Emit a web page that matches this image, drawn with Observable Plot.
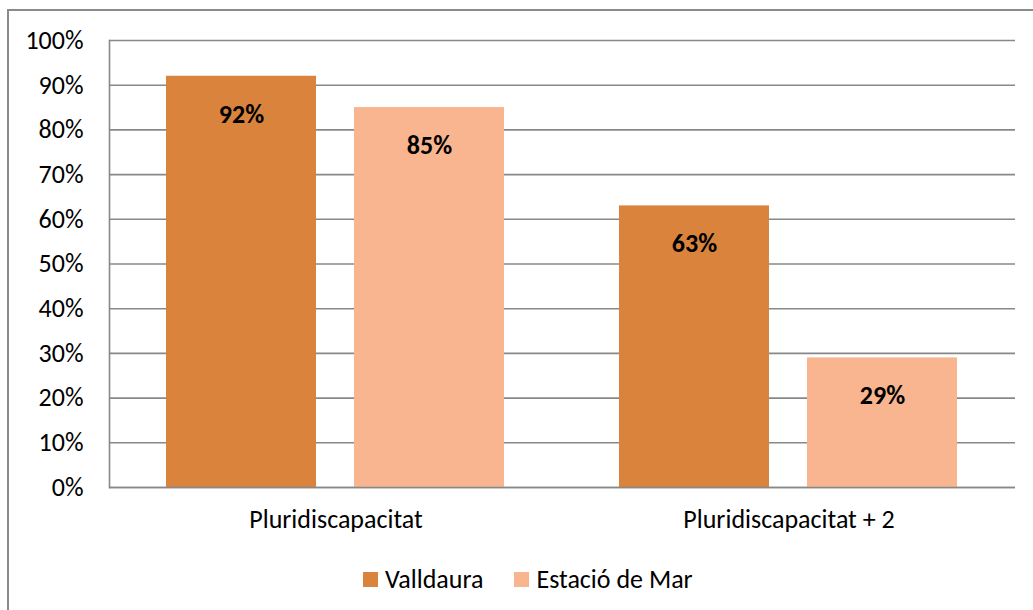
<!DOCTYPE html>
<html>
<head>
<meta charset="utf-8">
<script src="https://cdn.jsdelivr.net/npm/d3@7"></script>
<script src="https://cdn.jsdelivr.net/npm/@observablehq/plot@0.6"></script>
<style>
  html, body { margin: 0; padding: 0; background: #fff; }
  body { width: 1033px; height: 610px; overflow: hidden; position: relative;
         font-family: Carlito, Calibri, Lato, "Liberation Sans", sans-serif; }
  #border { position: absolute; left: 7px; top: 9px; width: 1060px; height: 640px;
            border: 2px solid #8a8a8a; box-sizing: border-box; }
  #chart { position: absolute; left: 9px; top: 12px; }
  #legend { position: absolute; left: 363px; top: 563px; display: flex; align-items: center;
            font-size: 26px; color: #000; }
  .item { display: flex; align-items: center; margin-right: 31px; }
  .sw { width: 15px; height: 15px; margin-right: 7px; }
</style>
</head>
<body>
<div id="border"></div>
<div id="chart"></div>
<div id="legend"></div>
<script>
const categories = ["Pluridiscapacitat", "Pluridiscapacitat + 2"];
const seriesNames = ["Valldaura", "Estació de Mar"];
const valldaura = [0.92, 0.63];
const estacioDeMar = [0.85, 0.29];
const yTicks = [0, 0.1, 0.2, 0.3, 0.4, 0.5, 0.6, 0.7, 0.8, 0.9, 1.0];
const colors = ["#DA833C", "#F8B58F"];

const seriesValues = [valldaura, estacioDeMar];
const data = [];
categories.forEach((c, i) => {
  seriesNames.forEach((s, j) => {
    data.push({category: c, series: s, value: seriesValues[j][i]});
  });
});
const pct = d3.format(".0%");
const font = "Carlito, Calibri, Lato, 'Liberation Sans', sans-serif";

const chart = Plot.plot({
  width: 1024,
  height: 528,
  marginLeft: 100,
  marginRight: 18,
  marginTop: 28,
  marginBottom: 53,
  style: {fontFamily: font, fontSize: "26px", color: "#000", background: "transparent", overflow: "visible"},
  fx: {domain: categories, padding: 0, axis: "bottom", label: null, tickSize: 0, tickPadding: 22},
  x: {domain: seriesNames, axis: null, paddingInner: 0.201, paddingOuter: 0.299},
  y: {domain: [0, 1], ticks: yTicks, tickFormat: pct, label: null, tickSize: 0, tickPadding: 26},
  color: {domain: seriesNames, range: colors},
  marks: [
    Plot.gridY(yTicks, {stroke: "#888", strokeOpacity: 1, strokeWidth: 1.6}),
    Plot.frame({anchor: "left", facetAnchor: "left", stroke: "#888", strokeWidth: 1.6}),
    Plot.barY(data, {fx: "category", x: "series", y: "value", fill: "series"}),
    Plot.ruleY([0], {stroke: "#888", strokeWidth: 1.6}),
    Plot.text(data, {fx: "category", x: "series", y: "value", text: d => pct(d.value),
                     dy: 38, fontWeight: "bold", fontSize: 26, fill: "#000"})
  ]
});
document.getElementById("chart").appendChild(chart);

const legend = document.getElementById("legend");
seriesNames.forEach((s, i) => {
  const it = document.createElement("div");
  it.className = "item";
  const sw = document.createElement("div");
  sw.className = "sw";
  sw.style.background = colors[i];
  const t = document.createElement("span");
  t.textContent = s;
  it.appendChild(sw); it.appendChild(t);
  legend.appendChild(it);
});
</script>
</body>
</html>
